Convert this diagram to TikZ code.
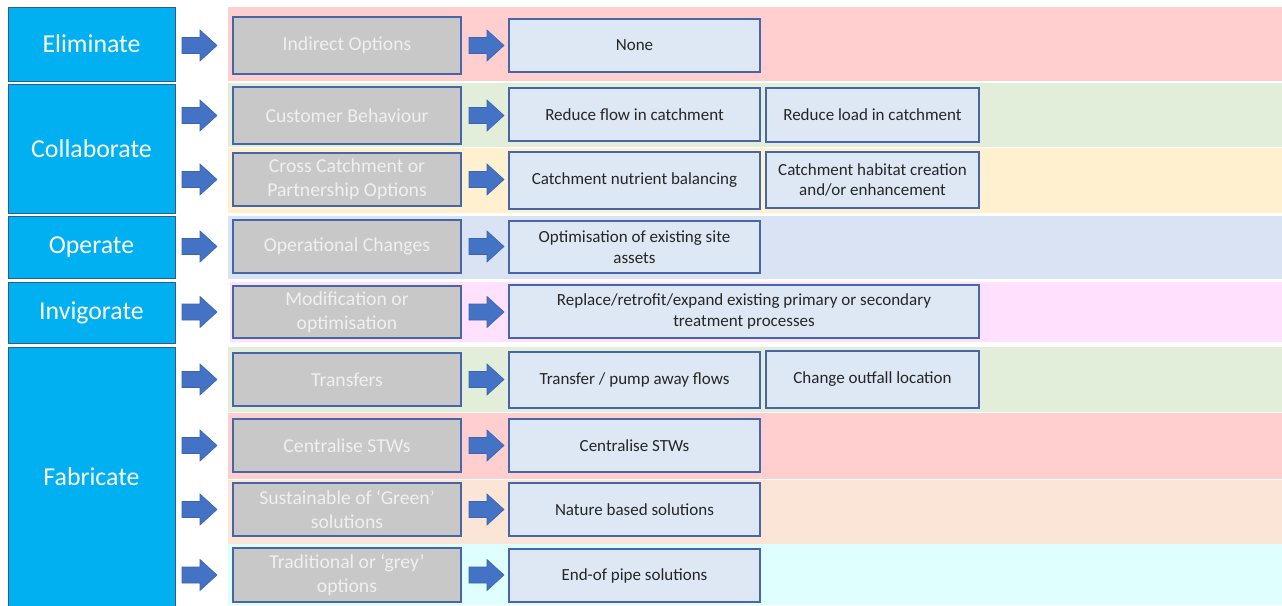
\documentclass[tikz,border=0pt]{standalone}
\usepackage{fontspec}
\setmainfont{Carlito}
\usetikzlibrary{calc}

\definecolor{mainblue}{HTML}{00B0F0}
\definecolor{mainedge}{HTML}{2A5F8C}
\definecolor{arrowfill}{HTML}{4472C4}
\definecolor{arrowedge}{HTML}{3A64B0}
\definecolor{boxedge}{HTML}{4766A8}
\definecolor{greyfill}{HTML}{C8C8C8}
\definecolor{greytext}{HTML}{F0F0F0}
\definecolor{lightfill}{HTML}{DEE8F5}
\definecolor{darktext}{HTML}{262626}
\definecolor{bandpink}{HTML}{FFCFCF}
\definecolor{bandgreen}{HTML}{E2EEDA}
\definecolor{bandyellow}{HTML}{FFF1D0}
\definecolor{bandblue}{HTML}{DAE3F3}
\definecolor{bandmagenta}{HTML}{FFE1FE}
\definecolor{bandpeach}{HTML}{FBE5D6}
\definecolor{bandcyan}{HTML}{DFFFFF}

\tikzset{
  mainbox/.style={draw=mainedge, line width=1pt, fill=mainblue, text=white,
    inner sep=0pt, outer sep=0pt, font=\fontsize{25.8}{30}\selectfont},
  optbox/.style={draw=boxedge, line width=1.4pt, fill=greyfill, text=greytext,
    inner sep=0pt, outer sep=0pt, align=center, font=\fontsize{19.7}{24}\selectfont},
  resbox/.style={draw=boxedge, line width=1.4pt, fill=lightfill, text=darktext,
    inner sep=0pt, outer sep=0pt, align=center, font=\fontsize{17}{20.5}\selectfont},
  arrowstyle/.style={fill=arrowfill, draw=arrowedge, line width=0.6pt, line join=miter},
  blockarrow/.pic={\path[arrowstyle] (0,-8) -- (18,-8) -- (18,-15.5) -- (35,0)
    -- (18,15.5) -- (18,8) -- (0,8) -- cycle;}
}

\begin{document}
\begin{tikzpicture}[x=1pt, y=-1pt]
\useasboundingbox (0,0) rectangle (1282,605);
\fill[white] (0,0) rectangle (1282,605);

% coloured bands behind each row
\fill[bandpink]    (228,7)   rectangle (1282,81);
\fill[bandgreen]   (228,83)  rectangle (1282,147);
\fill[bandyellow]  (228,148) rectangle (1282,213);
\fill[bandblue]    (228,216) rectangle (1282,279);
\fill[bandmagenta] (230,282) rectangle (1282,342);
\fill[bandgreen]   (228,347) rectangle (1282,412);
\fill[bandpink]    (228,413) rectangle (1282,479);
\fill[bandpeach]   (228,480) rectangle (1282,544);
\fill[bandcyan]    (228,544) rectangle (1282,605);

% strategy boxes
\node[mainbox, minimum width=167, minimum height=74]  (m1) at (91.5,44)    {Eliminate};
\node[mainbox, minimum width=167, minimum height=129] (m2) at (91.5,148.5) {Collaborate};
\node[mainbox, minimum width=167, minimum height=62]  (m3) at (91.5,247)   {Operate};
\node[mainbox, minimum width=167, minimum height=61]  (m4) at (91.5,312.5) {Invigorate};
\node[mainbox, minimum width=167, minimum height=260] (m5) at (91.5,477)   {Fabricate};

% option boxes
\node[optbox, minimum width=228, minimum height=57] (g1) at (347,45.5)  {Indirect Options};
\node[optbox, minimum width=228, minimum height=57] (g2) at (347,115.5) {Customer Behaviour};
\node[optbox, minimum width=228, minimum height=53] (g3) at (347,179.5) {Cross Catchment or\\Partnership Options};
\node[optbox, minimum width=228, minimum height=53] (g4) at (347,246.5) {Operational Changes};
\node[optbox, minimum width=228, minimum height=52] (g5) at (347,312)   {Modification or\\optimisation};
\node[optbox, minimum width=228, minimum height=53] (g6) at (347,379.5) {Transfers};
\node[optbox, minimum width=228, minimum height=53] (g7) at (347,445.5) {Centralise STWs};
\node[optbox, minimum width=228, minimum height=53] (g8) at (347,509.5) {Sustainable of ‘Green’\\solutions};
\node[optbox, minimum width=228, minimum height=54] (g9) at (347,575)   {Traditional or ‘grey’\\options};

% solution boxes
\node[resbox, minimum width=251, minimum height=53] (r1)  at (634.5,45.5)  {None};
\node[resbox, minimum width=251, minimum height=53] (r2a) at (634.5,114.5) {Reduce flow in catchment};
\node[resbox, minimum width=213, minimum height=54] (r2b) at (872.5,115)   {Reduce load in catchment};
\node[resbox, minimum width=251, minimum height=57] (r3a) at (634.5,180.5) {Catchment nutrient balancing};
\node[resbox, minimum width=213, minimum height=56] (r3b) at (872.5,180)   {Catchment habitat creation\\and/or enhancement};
\node[resbox, minimum width=251, minimum height=52] (r4)  at (634.5,247)   {Optimisation of existing site\\assets};
\node[resbox, minimum width=470, minimum height=53] (r5)  at (744,311.5)   {Replace/retrofit/expand existing primary or secondary\\treatment processes};
\node[resbox, minimum width=251, minimum height=56] (r6a) at (634.5,380)   {Transfer / pump away flows};
\node[resbox, minimum width=213, minimum height=57] (r6b) at (872.5,379.5) {Change outfall location};
\node[resbox, minimum width=251, minimum height=53] (r7)  at (634.5,445.5) {Centralise STWs};
\node[resbox, minimum width=251, minimum height=53] (r8)  at (634.5,509.5) {Nature based solutions};
\node[resbox, minimum width=251, minimum height=53] (r9)  at (634.5,575.5) {End-of pipe solutions};

% block arrows into and out of each option box
\foreach \g in {g1,g2,g3,g4,g5,g6,g7,g8,g9}{
  \pic at ($(\g.west)+(-51,0)$) {blockarrow};
  \pic at ($(\g.east)+(8,0)$) {blockarrow};
}
\end{tikzpicture}
\end{document}
